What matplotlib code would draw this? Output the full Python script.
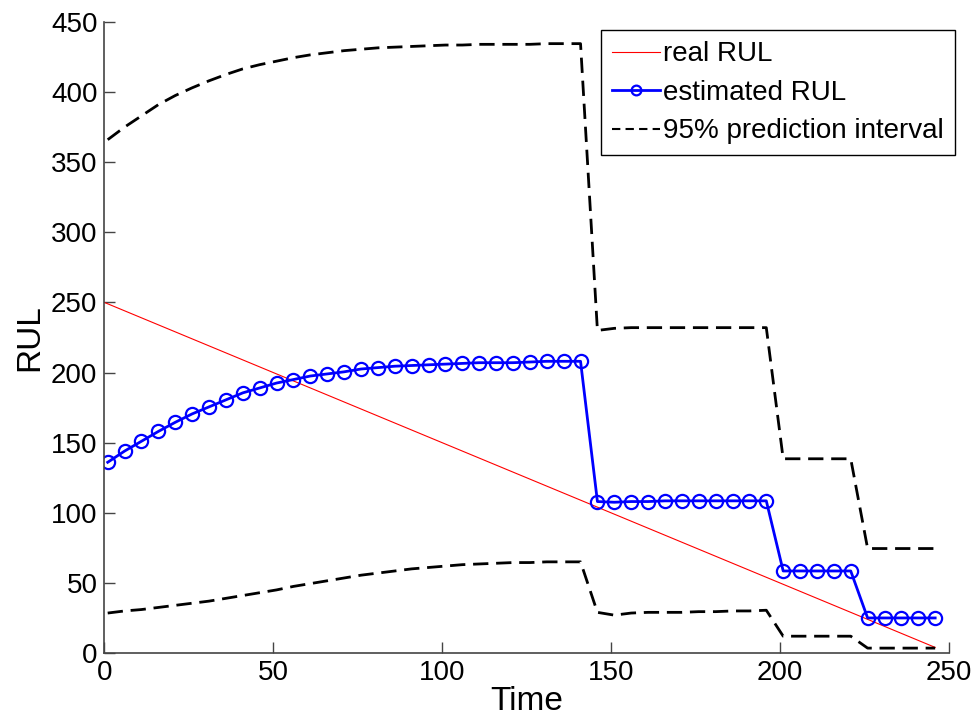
import numpy as np
import matplotlib
matplotlib.use("Agg")
import matplotlib.pyplot as plt

plt.rcParams['font.family'] = ['Liberation Sans', 'DejaVu Sans']

# time points (every 5 units)
time = [1, 6, 11, 16, 21, 26, 31, 36, 41, 46,
        51, 56, 61, 66, 71, 76, 81, 86, 91, 96,
        101, 106, 111, 116, 121, 126, 131, 136, 141, 146,
        151, 156, 161, 166, 171, 176, 181, 186, 191, 196,
        201, 206, 211, 216, 221, 226, 231, 236, 241, 246]

est_rul = [136, 144, 151, 158, 164.5, 170.5, 175.5, 180.5, 185.5, 189,
           192.5, 195, 197.5, 199, 200.5, 202.5, 203.5, 204.5, 205, 205.5,
           206, 206.5, 207, 207, 207, 207.5, 208, 208, 208, 108,
           107.5, 108, 108, 108.5, 108.5, 108.5, 108.5, 108.5, 108.5, 108.5,
           58.5, 58.5, 58.5, 58.5, 58.5, 25, 25, 25, 25, 25]

upper = [366, 375, 383, 391, 397.5, 403, 408, 412.5, 416.5, 419.5,
         422, 424.5, 426.5, 428, 429.5, 430.5, 431.5, 432, 432.5, 433,
         433.5, 433.5, 434, 434, 434, 434, 434.5, 434.5, 434.5, 230,
         231.5, 232, 232, 232, 232, 232, 232, 232, 232, 232,
         138.5, 138.5, 138.5, 138.5, 138.5, 74.5, 74.5, 74.5, 74.5, 74.5]

lower = [28.5, 30, 31, 32.5, 34, 35.5, 37, 39, 41, 43,
         45, 47.5, 49.5, 51.5, 53.5, 55.5, 57, 58.5, 60, 61,
         62, 63, 63.5, 64, 64.5, 64.5, 65, 65, 65, 29,
         27, 28.5, 29, 29, 29, 29.5, 29.5, 30, 30, 30.5,
         12, 12, 12, 12, 12, 3.5, 3.5, 3.5, 3.5, 3.5]

real_time = [0, 246]
real_rul = [250, 4]

fig = plt.figure(figsize=(9.75, 7.18), dpi=100)
ax = fig.add_axes([0.107, 0.0905, 0.866, 0.879])

ax.plot(real_time, real_rul, color='red', lw=0.8, label='real RUL')
ax.plot(time, est_rul, color='blue', lw=2, marker='o', ms=9.5, mfc='none',
        mew=1.6, label='estimated RUL')
ax.plot(time, upper, color='black', lw=2, dashes=(5.5, 2.8),
        label='95% prediction interval')
ax.plot(time, lower, color='black', lw=2, dashes=(5.5, 2.8))

ax.set_xlim(0, 250)
ax.set_ylim(0, 450)
ax.set_xticks(range(0, 251, 50))
ax.set_yticks(range(0, 451, 50))
ax.spines['top'].set_visible(False)
ax.spines['right'].set_visible(False)
for s in ('left', 'bottom'):
    ax.spines[s].set_color('#444444')
    ax.spines[s].set_linewidth(1.2)
ax.tick_params(direction='in', length=8, width=1, colors='#444444',
               labelcolor='black', labelsize=20, pad=5)

ax.set_xlabel('Time', fontsize=24, labelpad=0)
ax.set_ylabel('RUL', fontsize=24, labelpad=4)

leg = ax.legend(loc='upper right', bbox_to_anchor=(0.9795, 0.958),
                bbox_transform=fig.transFigure, borderaxespad=0,
                fontsize=20, fancybox=False, framealpha=1,
                handlelength=1.75, handletextpad=0.1, labelspacing=0.45,
                borderpad=0.4)
leg.get_frame().set_edgecolor('black')
leg.get_frame().set_linewidth(1)
hl = leg.get_lines()
hl[1].set_markersize(7)
hl[2].set_linewidth(1.5)
hl[2].set_dashes((4, 2.5))

plt.savefig('out.png', dpi=100)
